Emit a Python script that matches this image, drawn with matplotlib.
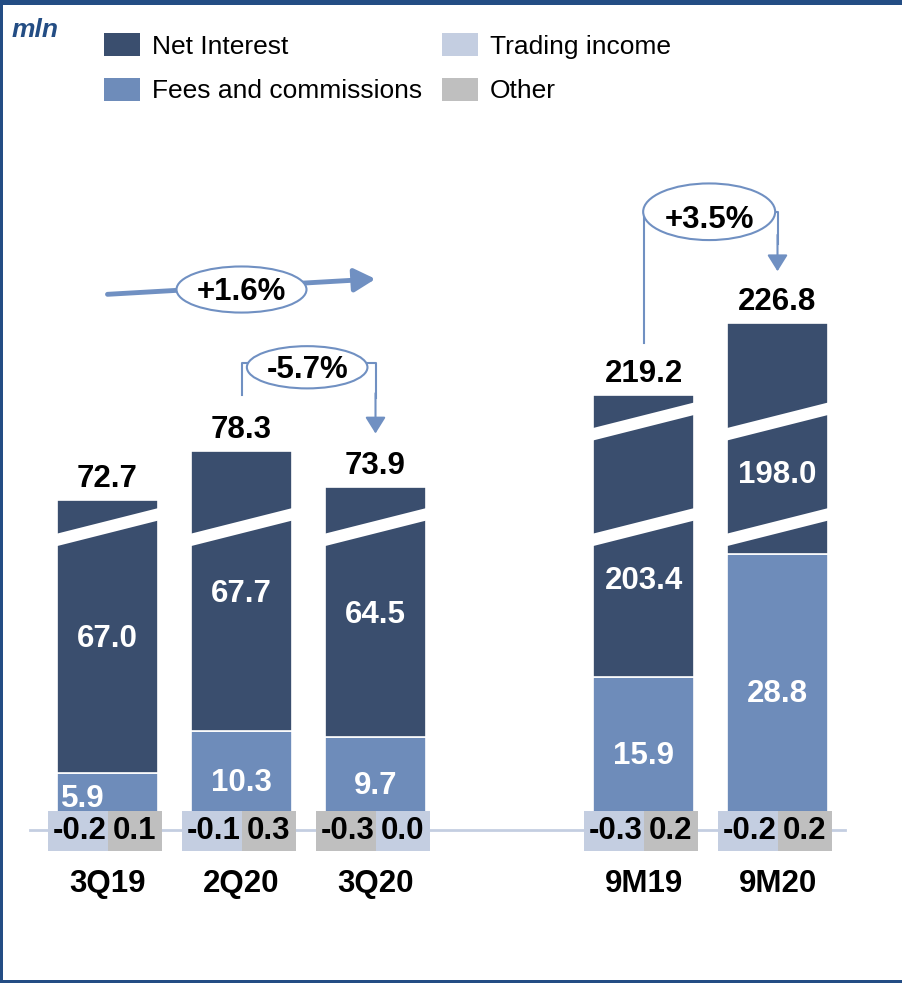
import matplotlib
matplotlib.use('Agg')
import matplotlib.pyplot as plt
from matplotlib.patches import Ellipse, Polygon, Rectangle, Patch
import numpy as np

plt.rcParams['font.family'] = ['Liberation Sans', 'DejaVu Sans']

# data (EUR mln)
categories = ['3Q19', '2Q20', '3Q20', '9M19', '9M20']
net_interest = [67.0, 67.7, 64.5, 203.4, 198.0]
fees = [5.9, 10.3, 9.7, 15.9, 28.8]
trading = [-0.2, -0.1, 0.0, -0.3, -0.2]
other = [0.1, 0.3, -0.3, 0.2, 0.2]
totals = [72.7, 78.3, 73.9, 219.2, 226.8]
changes = ['+1.6%', '-5.7%', '+3.5%']

# amount of net interest hidden by the axis break(s)
axis_break = [38.5, 38.5, 38.5, 174.0, 174.0]
n_breaks = [1, 1, 1, 2, 2]

c_net = '#3a4e6e'
c_fee = '#6e8cba'
c_trade = '#c4cee1'
c_other = '#bfbfbf'
c_arrow = '#7090c2'
c_frame = '#234d84'

# layout: pixel geometry of the original slide
X0, XU = 107.5, 134.0   # px of first bar centre, px per slot
Y0, YU = 830.0, 9.6     # px of baseline, px per mln
W, H = 902, 983

fig = plt.figure(figsize=(W / 100, H / 100), dpi=100)
ax = fig.add_axes([0, 0, 1, 1])
ax.set_xlim(-X0 / XU, (W - X0) / XU)
ax.set_ylim(-(H - Y0) / YU, Y0 / YU)
ax.axis('off')

x = np.array([0, 1, 2, 4, 5])
bw = 0.755
fs = 22.5
cap = 1.1  # half cap height of the labels in data units

net_shown = np.array(net_interest) - np.array(axis_break)
fees_arr = np.array(fees)

ax.plot([-0.58, 5.5], [0, 0], color=c_trade, lw=2, zorder=1)
ax.bar(x, fees_arr, width=bw, color=c_fee, edgecolor='white', lw=1.2, zorder=2)
ax.bar(x, net_shown, bottom=fees_arr, width=bw, color=c_net, edgecolor='white', lw=1.2, zorder=2)

# break marks
for i in range(len(x)):
    for k in range(n_breaks[i]):
        y0 = 29.5 + 11.0 * k
        L, R = x[i] - bw / 2 - 0.02, x[i] + bw / 2 + 0.02
        ax.add_patch(Polygon([(L, y0), (R, y0 + 2.8), (R, y0 + 4.1), (L, y0 + 1.3)],
                             closed=True, fc='white', ec='none', zorder=3))

tops = fees_arr + net_shown
net_shift = [0, 0, 0, -4.4, -3.6]
lab = dict(fontsize=fs, fontweight='bold', ha='center', va='baseline')
for i in range(len(x)):
    # totals
    ax.text(x[i], tops[i] + 1.35, f'{totals[i]:.1f}', color='black', zorder=6, **lab)
    # net interest
    ym = fees_arr[i] + net_shown[i] / 2 + net_shift[i]
    ax.text(x[i], ym - cap, f'{net_interest[i]:.1f}', color='white', zorder=6, **lab)
    # fees
    if fees[i] < 8:
        ax.text(x[i] - bw / 2 + 0.03, 2.4, f'{fees[i]:.1f}', color='white',
                fontsize=fs, fontweight='bold', ha='left', va='baseline', zorder=4)
    else:
        ax.text(x[i], fees[i] / 2 - cap, f'{fees[i]:.1f}', color='white', zorder=4, **lab)
    # small items in boxes on the baseline
    pair = sorted([(trading[i], c_trade), (other[i], c_other)], key=lambda p: p[0])
    for j, (v, c) in enumerate(pair):
        ax.text(x[i] - 0.205 + 0.41 * j, -0.1, f'{v:.1f}', fontsize=fs, fontweight='bold',
                ha='center', va='center', color='black', zorder=5 + j,
                bbox=dict(boxstyle='square,pad=0.17', fc=c, ec='none'))
    ax.text(x[i], -6.45, categories[i], **lab)

# +1.6% arrow 3Q19 -> 3Q20
ax.annotate('', xy=(2.0, 57.4), xytext=(0.0, 55.8),
            arrowprops=dict(arrowstyle='-|>,head_length=0.4,head_width=0.22',
                            mutation_scale=32, lw=3.5, color=c_arrow,
                            shrinkA=0, shrinkB=0), zorder=3)
ax.add_patch(Ellipse((1.0, 56.3), 0.97, 4.8, fc='white', ec=c_arrow, lw=1.5, zorder=4))
ax.text(1.0, 56.3 - cap, changes[0], zorder=5, **lab)

# -5.7% bracket 2Q20 -> 3Q20
ax.plot([1.0, 1.0, 2.0, 2.0], [45.3, 48.6, 48.6, 45.0], color=c_arrow, lw=1.5, zorder=3)
ax.annotate('', xy=(2.0, 41.3), xytext=(2.0, 45.5),
            arrowprops=dict(arrowstyle='-|>,head_length=0.4,head_width=0.25',
                            mutation_scale=25, lw=1.5, color=c_arrow,
                            shrinkA=0, shrinkB=0), zorder=3)
ax.add_patch(Ellipse((1.49, 48.2), 0.9, 4.4, fc='white', ec=c_arrow, lw=1.5, zorder=4))
ax.text(1.49, 48.2 - cap, changes[1], zorder=5, **lab)

# +3.5% bracket 9M19 -> 9M20
ax.plot([4.0, 4.0, 5.0, 5.0], [50.7, 64.4, 64.4, 61.0], color=c_arrow, lw=1.5, zorder=3)
ax.annotate('', xy=(5.0, 58.2), xytext=(5.0, 62.0),
            arrowprops=dict(arrowstyle='-|>,head_length=0.4,head_width=0.25',
                            mutation_scale=25, lw=1.5, color=c_arrow,
                            shrinkA=0, shrinkB=0), zorder=3)
ax.add_patch(Ellipse((4.49, 64.4), 0.985, 5.9, fc='white', ec=c_arrow, lw=1.5, zorder=4))
ax.text(4.49, 63.85 - cap, changes[2], zorder=5, **lab)

# legend
handles = [Patch(fc=c_net), Patch(fc=c_fee), Patch(fc=c_trade), Patch(fc=c_other)]
labels = ['Net Interest', 'Fees and commissions', 'Trading income', 'Other']
fig.legend(handles, labels, ncol=2, loc='upper left',
           bbox_to_anchor=(104 / W, 1 - 33 / H), frameon=False, fontsize=19,
           handlelength=1.36, handleheight=0.98, handletextpad=0.45,
           columnspacing=0.76, labelspacing=0.72, borderpad=0, borderaxespad=0)

fig.text(12 / W, 1 - 37 / H, 'mln', fontsize=19, fontweight='bold', style='italic',
         color=c_frame, va='baseline')

# slide frame
fig.add_artist(Rectangle((0, 1 - 5 / H), 1, 5 / H, transform=fig.transFigure, fc=c_frame, ec='none'))
fig.add_artist(Rectangle((0, 0), 2.5 / W, 1, transform=fig.transFigure, fc=c_frame, ec='none'))
fig.add_artist(Rectangle((0, 0), 1, 3 / H, transform=fig.transFigure, fc=c_frame, ec='none'))

fig.savefig('out.png', dpi=100)
